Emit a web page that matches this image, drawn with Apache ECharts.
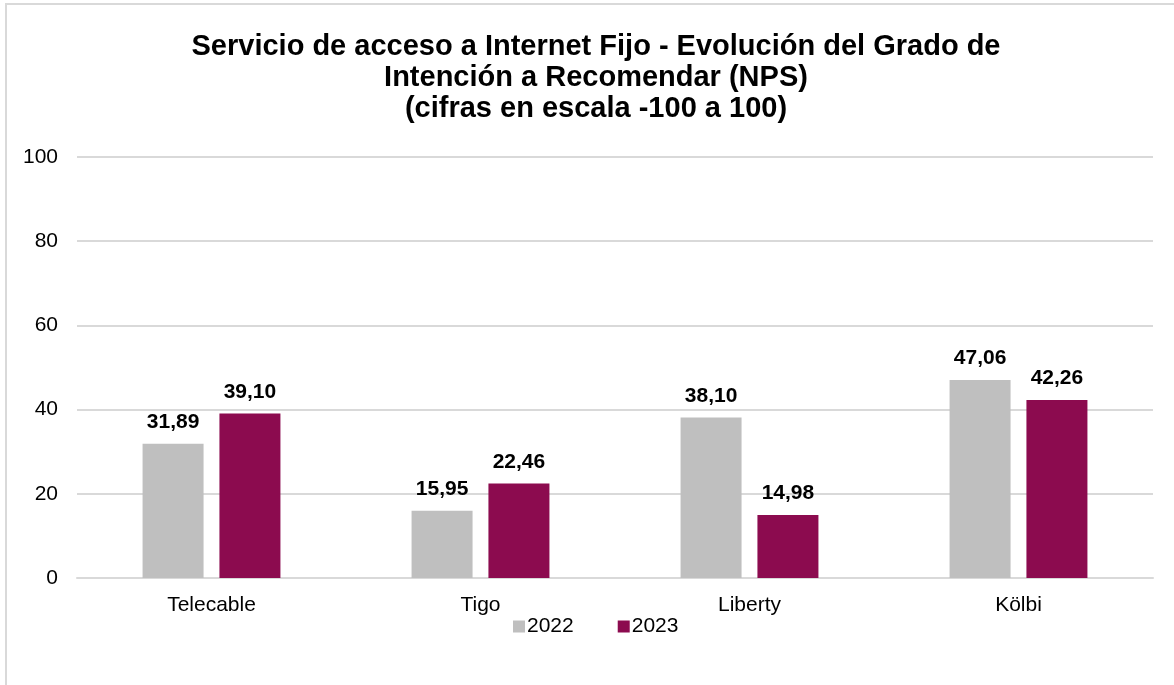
<!DOCTYPE html>
<html lang="es">

<head>
    <meta charset="utf-8" />
    <title>NPS Internet Fijo</title>
    <script src="https://cdn.jsdelivr.net/npm/echarts@6/dist/echarts.min.js"></script>
    <style>
        html, body { margin: 0; padding: 0; width: 1174px; height: 685px; overflow: hidden; background: #fff; }
        .marco { position: absolute; left: 5px; top: 3px; width: 1190px; height: 720px; border: 2px solid #d9d9d9; box-sizing: border-box; }
        #chart { position: absolute; left: 0; top: 0; width: 1174px; height: 685px; }
    </style>
</head>

<body>
    <div class="marco"></div>
    <div id="chart"></div>
    <script>
        // datos
        var operadores = ['Telecable', 'Tigo', 'Liberty', 'Kölbi'];
        var anios = ['2022', '2023'];
        var nps2022 = [31.89, 15.95, 38.10, 47.06];
        var nps2023 = [39.10, 22.46, 14.98, 42.26];
        var colores = ['#bfbfbf', '#8c0b4f'];

        var fuente = '"Liberation Sans", Arial, sans-serif';
        var myChart = echarts.init(document.getElementById('chart'));

        function etiqueta(p) {
            return p.value.toFixed(2).replace('.', ',');
        }

        var series = [nps2022, nps2023].map(function (vals, i) {
            return {
                name: anios[i],
                type: 'bar',
                data: vals,
                barWidth: 61,
                barGap: '26%',
                itemStyle: { color: colores[i] },
                label: {
                    show: true,
                    position: 'top',
                    distance: 11,
                    formatter: etiqueta,
                    color: '#000',
                    fontFamily: fuente,
                    fontWeight: 'bold',
                    fontSize: 21
                }
            };
        });

        var option = {
            animation: false,
            title: {
                text: 'Servicio de acceso a Internet Fijo - Evolución del Grado de\nIntención a Recomendar (NPS)\n(cifras en escala -100 a 100)',
                left: 591,
                textAlign: 'center',
                top: 26,
                textStyle: {
                    fontFamily: fuente,
                    fontWeight: 'bold',
                    fontSize: 29,
                    lineHeight: 31,
                    color: '#000'
                }
            },
            legend: {
                data: anios,
                left: 508,
                top: 611,
                itemWidth: 12,
                itemHeight: 12,
                itemGap: 44,
                icon: 'rect',
                textStyle: { fontFamily: fuente, fontSize: 21, color: '#000', padding: [0, 0, 0, -3] }
            },
            grid: { left: 77, right: 21, top: 157, bottom: 107, containLabel: false },
            xAxis: {
                type: 'category',
                data: operadores,
                axisTick: { show: false },
                axisLine: { lineStyle: { color: '#d9d9d9', width: 2 } },
                axisLabel: { color: '#000', fontFamily: fuente, fontSize: 21, margin: 17 }
            },
            yAxis: {
                type: 'value',
                min: 0,
                max: 100,
                interval: 20,
                axisLine: { show: false },
                axisTick: { show: false },
                splitLine: { lineStyle: { color: '#d9d9d9', width: 2 } },
                axisLabel: { color: '#000', fontFamily: fuente, fontSize: 21, margin: 19 }
            },
            series: series
        };
        myChart.setOption(option);
    </script>
</body>

</html>
